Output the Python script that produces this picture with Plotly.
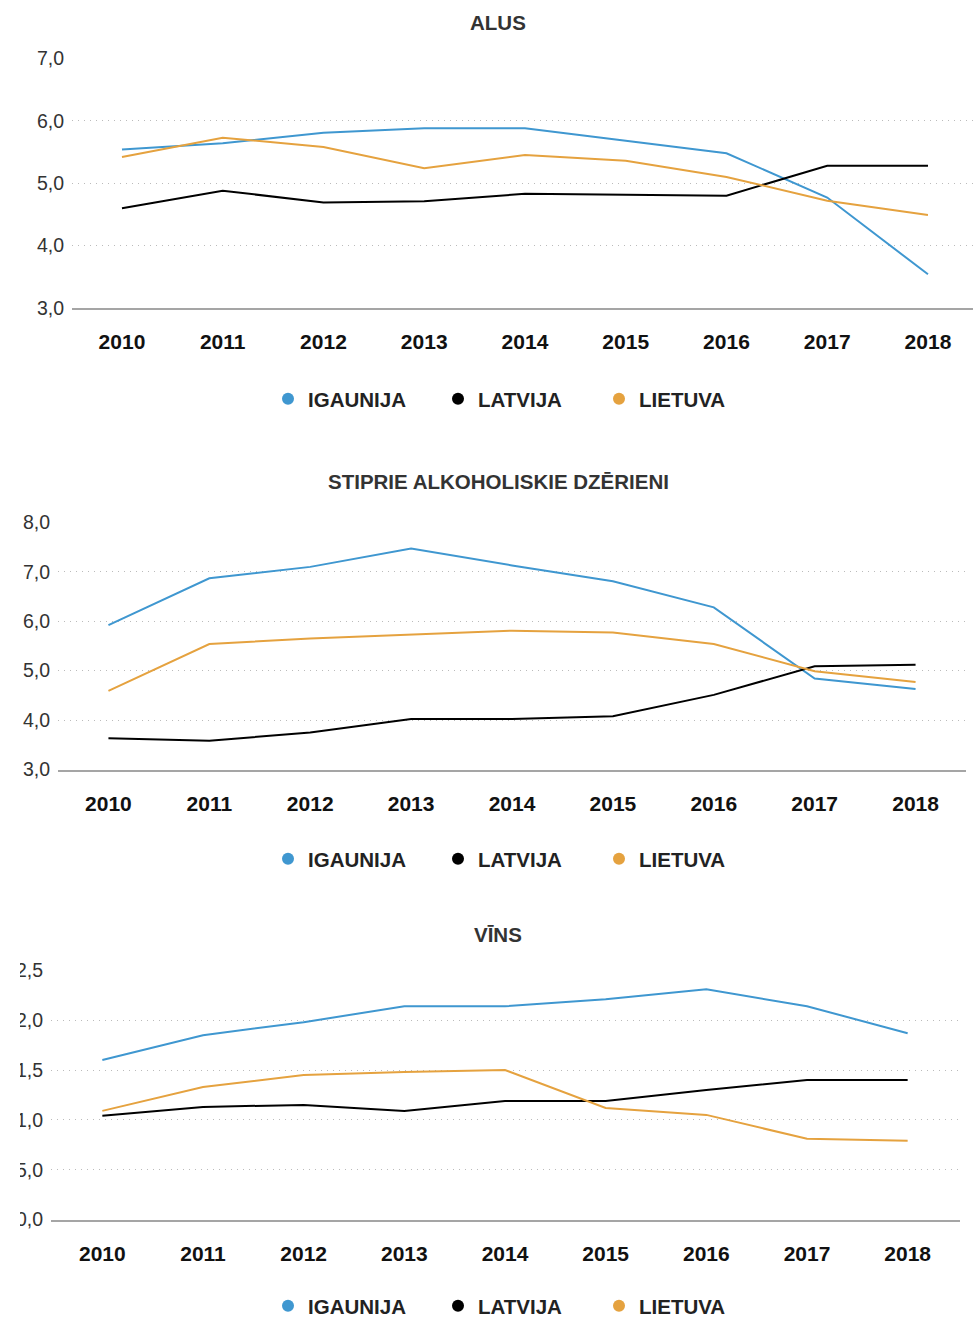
import plotly.graph_objects as go

W, H = 973, 1319

years = ["2010", "2011", "2012", "2013", "2014", "2015", "2016", "2017", "2018"]
countries = ["IGAUNIJA", "LATVIJA", "LIETUVA"]
colors = ["#3F97D0", "#000000", "#E5A23F"]

titles = ["ALUS", "STIPRIE ALKOHOLISKIE DZĒRIENI", "VĪNS"]

alus_igaunija = [5.54, 5.64, 5.81, 5.88, 5.88, 5.68, 5.48, 4.77, 3.54]
alus_latvija = [4.60, 4.88, 4.69, 4.71, 4.83, 4.82, 4.80, 5.28, 5.28]
alus_lietuva = [5.42, 5.73, 5.58, 5.24, 5.45, 5.36, 5.10, 4.72, 4.49]

stiprie_igaunija = [5.92, 6.87, 7.10, 7.47, 7.13, 6.81, 6.28, 4.84, 4.63]
stiprie_latvija = [3.63, 3.58, 3.75, 4.02, 4.02, 4.08, 4.51, 5.09, 5.12]
stiprie_lietuva = [4.59, 5.54, 5.65, 5.73, 5.81, 5.77, 5.54, 4.99, 4.77]

vins_igaunija = [1.60, 1.85, 1.98, 2.14, 2.14, 2.21, 2.31, 2.14, 1.87]
vins_latvija = [1.04, 1.13, 1.15, 1.09, 1.19, 1.19, 1.30, 1.40, 1.40]
vins_lietuva = [1.09, 1.33, 1.45, 1.48, 1.50, 1.12, 1.05, 0.81, 0.79]

alus_ticks = [3, 4, 5, 6, 7]
alus_ticktext = ["3,0", "4,0", "5,0", "6,0", "7,0"]
stiprie_ticks = [3, 4, 5, 6, 7, 8]
stiprie_ticktext = ["3,0", "4,0", "5,0", "6,0", "7,0", "8,0"]
vins_ticks = [0, 0.5, 1.0, 1.5, 2.0, 2.5]
vins_ticktext = ["0,0", "5,0", "1,0", "1,5", "2,0", "2,5"]

FONT = "Liberation Sans, Arial, Helvetica, sans-serif"

panels = [
    dict(series=[alus_igaunija, alus_latvija, alus_lietuva], ticks=alus_ticks, ticktext=alus_ticktext,
         yr=[3, 7], xr=[-0.496, 8.447], xpx=(72, 973), ypx=(58.4, 308.0), title_y=22, legend_y=399),
    dict(series=[stiprie_igaunija, stiprie_latvija, stiprie_lietuva], ticks=stiprie_ticks, ticktext=stiprie_ticktext,
         yr=[3, 8], xr=[-0.5, 8.5], xpx=(58, 966), ypx=(522.4, 769.5), title_y=481, legend_y=859),
    dict(series=[vins_igaunija, vins_latvija, vins_lietuva], ticks=vins_ticks, ticktext=vins_ticktext,
         yr=[0, 2.5], xr=[-0.51, 8.52], xpx=(51, 960), ypx=(970.4, 1219.5), title_y=934, legend_y=1306),
]

legend_widths = [125, 116, 90]

fig = go.Figure()
layout = dict(
    width=W, height=H,
    margin=dict(l=0, r=0, t=0, b=0, autoexpand=False),
    paper_bgcolor="white", plot_bgcolor="white",
    font=dict(family=FONT, color="#333333"),
    showlegend=True,
    annotations=[], shapes=[],
)

for i, p in enumerate(panels):
    suffix = "" if i == 0 else str(i + 1)
    xa, ya = "x" + suffix, "y" + suffix
    leg = "legend" + suffix
    for j, (name, vals) in enumerate(zip(countries, p["series"])):
        fig.add_trace(go.Scatter(
            x=years, y=vals, mode="lines", name=name,
            line=dict(color=colors[j], width=2),
            xaxis=xa, yaxis=ya, showlegend=False, hoverinfo="x+y+name",
        ))
    for j, name in enumerate(countries):
        fig.add_trace(go.Scatter(
            x=[None], y=[None], mode="markers", name=name,
            marker=dict(color=colors[j], size=12, symbol="circle"),
            xaxis=xa, yaxis=ya, legend=leg, showlegend=True,
            legendwidth=legend_widths[j],
        ))
    x0, x1 = p["xpx"]
    yt, yb = p["ypx"]
    layout["xaxis" + suffix] = dict(
        domain=[x0 / W, x1 / W], anchor=ya, type="category",
        range=p["xr"], showgrid=False, zeroline=False,
        showline=True, linecolor="#A5A5A5", linewidth=2, ticks="",
        ticklabelstandoff=14, automargin=False,
        tickfont=dict(family=FONT, size=21, color="#111111", weight="bold"),
    )
    layout["yaxis" + suffix] = dict(
        domain=[1 - yb / H, 1 - yt / H], anchor=xa, range=p["yr"],
        tickvals=p["ticks"], ticktext=p["ticktext"], showgrid=True,
        gridcolor="#BBBBBB", griddash="1px,5px", gridwidth=1, zeroline=False,
        showline=False, ticks="", ticklabelstandoff=7, automargin=False,
        tickfont=dict(family=FONT, size=19.5, color="#333333"),
    )
    layout[leg] = dict(
        orientation="h", x=(289 - 21) / W, xanchor="left",
        y=1 - p["legend_y"] / H, yanchor="middle",
        font=dict(family=FONT, size=20.5, color="#222222", weight="bold"),
        bgcolor="rgba(0,0,0,0)", itemwidth=30,
    )
    layout["annotations"].append(dict(
        text=titles[i], xref="paper", yref="paper", x=498 / W, y=1 - p["title_y"] / H,
        xanchor="center", yanchor="middle", showarrow=False,
        font=dict(family=FONT, size=20.5, color="#333333", weight="bold"),
    ))

# mask reproducing the clipped tick labels on the left of the last panel
layout["shapes"].append(dict(
    type="rect", xref="paper", yref="paper", x0=0, x1=20 / W,
    y0=1 - 1240 / H, y1=1 - 950 / H, fillcolor="white", line=dict(width=0), layer="above",
))

fig.update_layout(**layout)
post = "document.documentElement.style.margin='0';document.body.style.margin='0';"
fig.write_html("out.html", config={"displayModeBar": False}, post_script=post)
